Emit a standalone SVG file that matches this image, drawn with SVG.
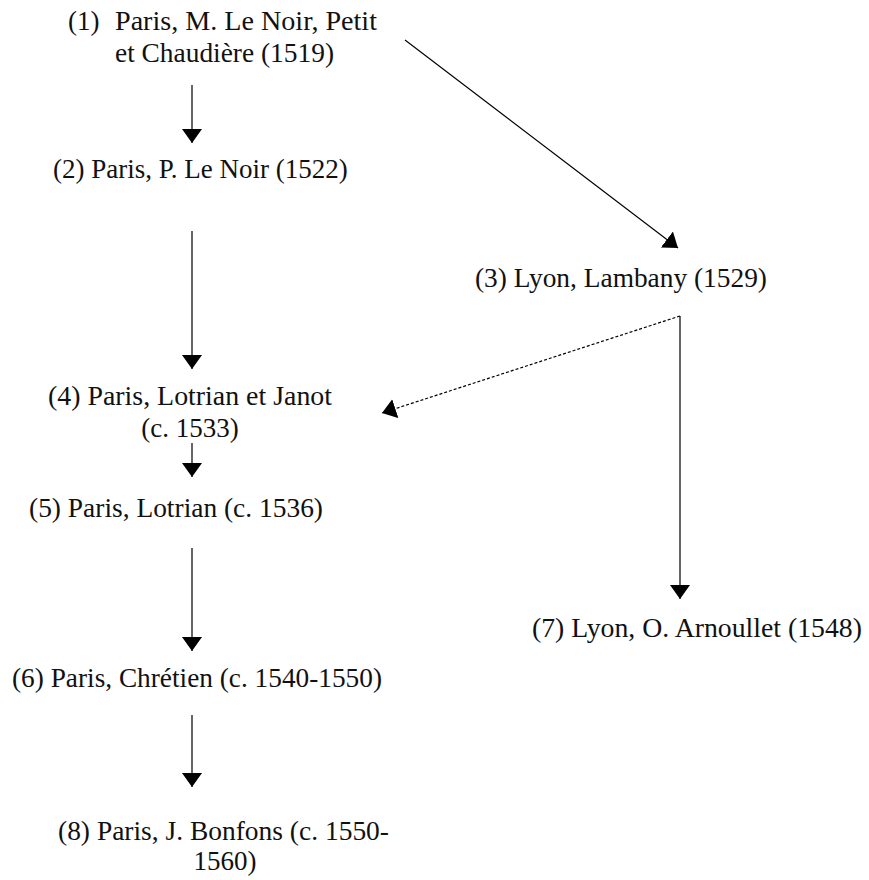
<svg xmlns="http://www.w3.org/2000/svg" width="869" height="880" viewBox="0 0 869 880">
<style>
text { font-family: "Liberation Serif", "Times New Roman", serif; font-size: 27px; fill: #111; }
.c { stroke: #000; stroke-width: 1.2; fill: none; }
.d { stroke-dasharray: 3 2; }
</style>
<defs>
<marker id="ah" viewBox="0 0 14 20" refX="14" refY="10" markerWidth="14" markerHeight="20" markerUnits="userSpaceOnUse" orient="auto">
<path d="M0,0 L14,10 L0,20 z" fill="#000"/>
</marker>
</defs>
<rect width="869" height="880" fill="#fff"/>
<g id="connectors">
<line class="c" x1="192" y1="85" x2="192" y2="143" marker-end="url(#ah)"/>
<line class="c" x1="192" y1="231" x2="192" y2="369" marker-end="url(#ah)"/>
<line class="c" x1="405" y1="40" x2="678" y2="248" marker-end="url(#ah)"/>
<line class="c" x1="680" y1="316" x2="680" y2="599" marker-end="url(#ah)"/>
<line class="c d" x1="680" y1="316" x2="382" y2="413" marker-end="url(#ah)"/>
<line class="c" x1="192" y1="443" x2="192" y2="477" marker-end="url(#ah)"/>
<line class="c" x1="192" y1="548" x2="192" y2="651" marker-end="url(#ah)"/>
<line class="c" x1="192" y1="715" x2="192" y2="787" marker-end="url(#ah)"/>
</g>
<g id="n1">
<text x="68" y="30">(1)</text>
<text x="115" y="30" textLength="262" lengthAdjust="spacingAndGlyphs">Paris, M. Le Noir, Petit</text>
<text x="115" y="62" textLength="219" lengthAdjust="spacingAndGlyphs">et Chaudière (1519)</text>
</g>
<g id="n2"><text x="53" y="178">(2) Paris, P. Le Noir (1522)</text></g>
<g id="n3"><text x="475" y="287" textLength="292" lengthAdjust="spacingAndGlyphs">(3) Lyon, Lambany (1529)</text></g>
<g id="n4">
<text x="48" y="405" textLength="284" lengthAdjust="spacingAndGlyphs">(4) Paris, Lotrian et Janot</text>
<text x="190" y="437" text-anchor="middle">(c. 1533)</text>
</g>
<g id="n5"><text x="29" y="517" textLength="294" lengthAdjust="spacingAndGlyphs">(5) Paris, Lotrian (c. 1536)</text></g>
<g id="n6"><text x="12" y="687" textLength="370" lengthAdjust="spacingAndGlyphs">(6) Paris, Chrétien (c. 1540-1550)</text></g>
<g id="n7"><text x="532" y="637" textLength="330" lengthAdjust="spacingAndGlyphs">(7) Lyon, O. Arnoullet (1548)</text></g>
<g id="n8">
<text x="58" y="840" textLength="331" lengthAdjust="spacingAndGlyphs">(8) Paris, J. Bonfons (c. 1550-</text>
<text x="225" y="870" text-anchor="middle">1560)</text>
</g>
</svg>
